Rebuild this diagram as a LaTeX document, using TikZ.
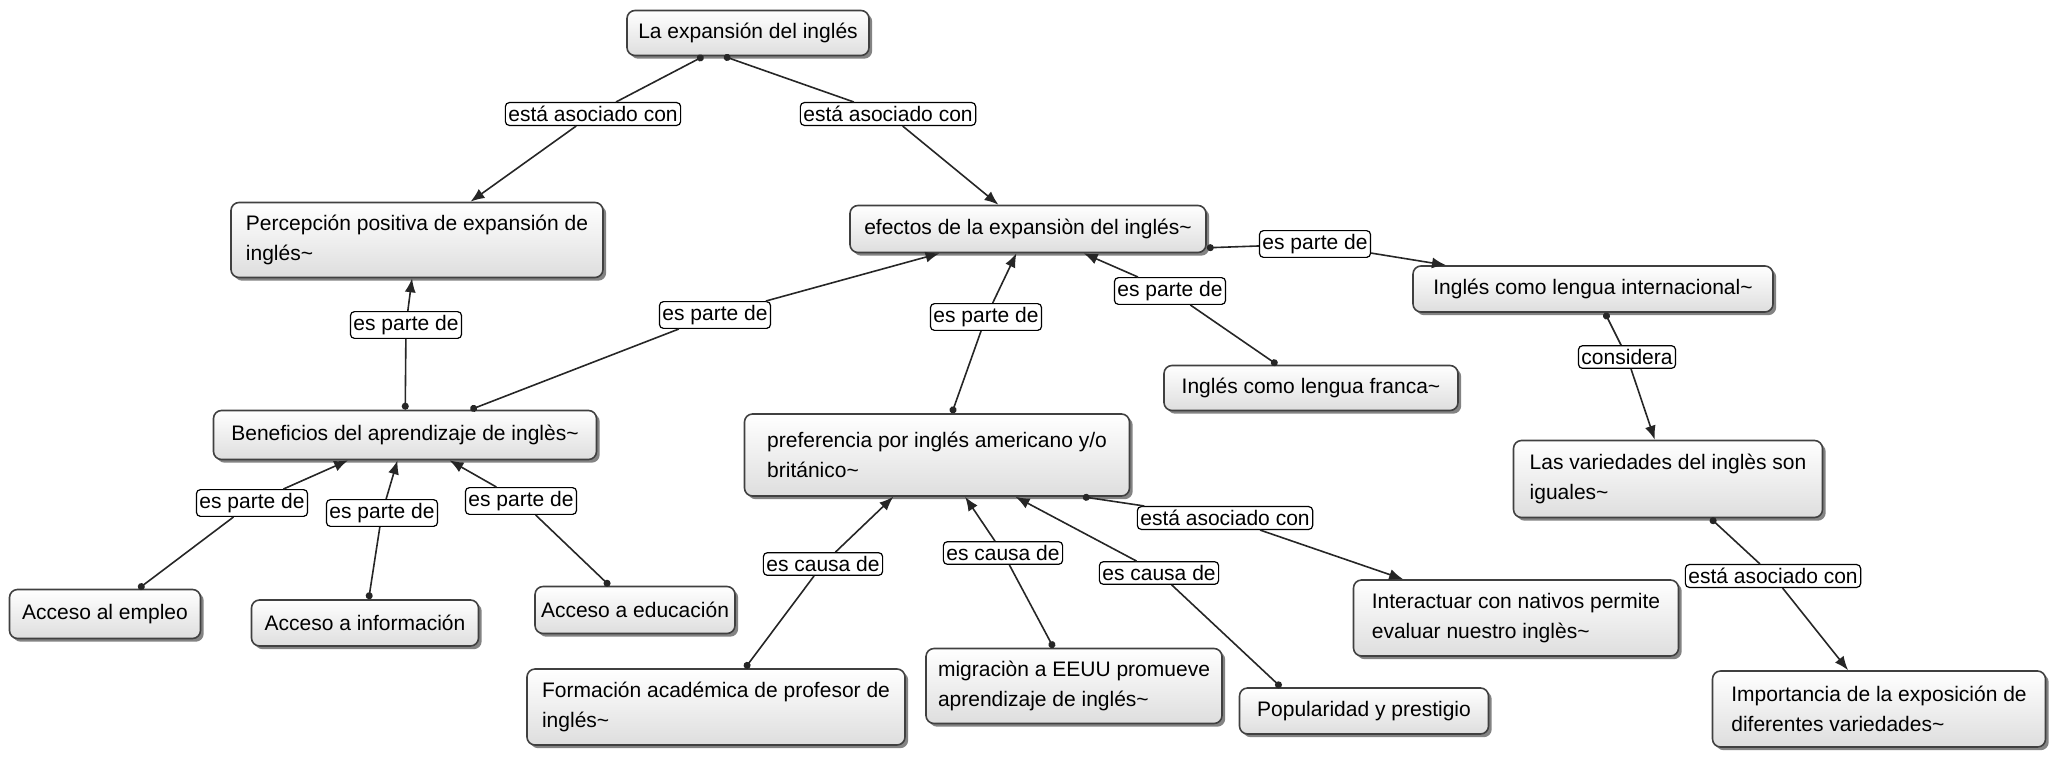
\documentclass[tikz,border=0pt]{standalone}
\usepackage{fontspec}
\setmainfont{Liberation Sans}
\usetikzlibrary{arrows.meta, shadows}

\begin{document}
\begin{tikzpicture}[x=0.5pt, y=-0.5pt,
    every node/.style={font=\fontsize{10.5}{15}\selectfont},
    concepto/.style={rectangle, rounded corners=4pt, draw=black!75, line width=0.8pt,
      top color=white, bottom color=black!13, align=left, inner xsep=3pt, inner ysep=3pt,
      drop shadow={shadow xshift=1.6pt, shadow yshift=-1.6pt, opacity=0.65, fill=black!75}},
    frase/.style={rectangle, rounded corners=2pt, draw=black, line width=0.6pt, fill=white,
      inner xsep=1.5pt, inner ysep=1.8pt},
    desde/.style={draw=black!85, line width=0.8pt, {Circle[length=3.5pt]}-},
    hacia/.style={draw=black!85, line width=0.8pt, -{Latex[length=7pt, width=5.5pt]}}]
  \useasboundingbox (0,0) rectangle (2056,756);

  % conceptos
  \node[concepto, minimum width=121pt, minimum height=22.5pt] (expansion) at (748,33) {La expansión del inglés};
  \node[concepto, minimum width=186pt, minimum height=37.5pt] (percepcion) at (417,240) {Percepción positiva de expansión de\\inglés\textasciitilde};
  \node[concepto, minimum width=178pt, minimum height=23.5pt] (efectos) at (1028,229) {efectos de la expansiòn del inglés\textasciitilde};
  \node[concepto, minimum width=180pt, minimum height=23pt] (internacional) at (1593,289) {Inglés como lengua internacional\textasciitilde};
  \node[concepto, minimum width=147pt, minimum height=22.5pt] (franca) at (1311,388) {Inglés como lengua franca\textasciitilde};
  \node[concepto, minimum width=191.5pt, minimum height=24.5pt] (beneficios) at (405,435) {Beneficios del aprendizaje de inglès\textasciitilde};
  \node[concepto, minimum width=192.5pt, minimum height=41pt] (preferencia) at (937,455) {preferencia por inglés americano y/o\\británico\textasciitilde};
  \node[concepto, minimum width=154.5pt, minimum height=38.5pt] (variedades) at (1668,479) {Las variedades del inglès son\\iguales\textasciitilde};
  \node[concepto, minimum width=95.5pt, minimum height=24.5pt] (empleo) at (105,614) {Acceso al empleo};
  \node[concepto, minimum width=113.5pt, minimum height=23pt] (informacion) at (365,623) {Acceso a información};
  \node[concepto, minimum width=99.5pt, minimum height=23.5pt] (educacion) at (635,610) {Acceso a educación};
  \node[concepto, minimum width=162.5pt, minimum height=38pt] (nativos) at (1516,618) {Interactuar con nativos permite\\evaluar nuestro inglès\textasciitilde};
  \node[concepto, minimum width=189pt, minimum height=38pt] (formacion) at (716,707) {Formación académica de profesor de\\inglés\textasciitilde};
  \node[concepto, minimum width=148pt, minimum height=37.5pt] (migracion) at (1074,686) {migraciòn a EEUU promueve\\aprendizaje de inglés\textasciitilde};
  \node[concepto, minimum width=124.5pt, minimum height=23pt] (popularidad) at (1364,711) {Popularidad y prestigio};
  \node[concepto, minimum width=166.5pt, minimum height=38pt] (importancia) at (1879,709) {Importancia de la exposición de\\diferentes variedades\textasciitilde};

  % frases de enlace
  \node[frase] (f1) at (593,114) {está asociado con};
  \node[frase] (f2) at (888,114) {está asociado con};
  \node[frase] (f3) at (406,325) {es parte de};
  \node[frase] (f4) at (715,315) {es parte de};
  \node[frase] (f5) at (986,317) {es parte de};
  \node[frase] (f6) at (1170,291) {es parte de};
  \node[frase] (f7) at (1315,244) {es parte de};
  \node[frase] (f8) at (1627,357) {considera};
  \node[frase] (f9) at (252,503) {es parte de};
  \node[frase] (f10) at (382,513) {es parte de};
  \node[frase] (f11) at (521,501) {es parte de};
  \node[frase] (f12) at (823,564) {es causa de};
  \node[frase] (f13) at (1003,553) {es causa de};
  \node[frase] (f14) at (1159,573) {es causa de};
  \node[frase] (f15) at (1225,518) {está asociado con};
  \node[frase] (f16) at (1773,576) {está asociado con};

  % enlaces
  \draw[desde] (expansion) -- (f1);
  \draw[hacia] (f1) -- (percepcion);
  \draw[desde] (expansion.224) -- (f2);
  \draw[hacia] (f2) -- (efectos);
  \draw[desde] (beneficios) -- (f3);
  \draw[hacia] (f3) -- (percepcion);
  \draw[desde] (beneficios) -- (f4);
  \draw[hacia] (f4) -- (efectos);
  \draw[desde] (preferencia) -- (f5);
  \draw[hacia] (f5) -- (efectos);
  \draw[desde] (franca) -- (f6);
  \draw[hacia] (f6) -- (efectos);
  \draw[desde] (efectos.-6) -- (f7);
  \draw[hacia] (f7) -- (internacional);
  \draw[desde] (internacional) -- (f8);
  \draw[hacia] (f8) -- (variedades);
  \draw[desde] (empleo) -- (f9);
  \draw[hacia] (f9) -- (beneficios);
  \draw[desde] (informacion) -- (f10);
  \draw[hacia] (f10) -- (beneficios);
  \draw[desde] (educacion) -- (f11);
  \draw[hacia] (f11) -- (beneficios);
  \draw[desde] (formacion) -- (f12);
  \draw[hacia] (f12) -- (preferencia);
  \draw[desde] (migracion) -- (f13);
  \draw[hacia] (f13) -- (preferencia);
  \draw[desde] (popularidad.164) -- (f14);
  \draw[hacia] (f14) -- (preferencia);
  \draw[desde] (preferencia.-16) -- (f15);
  \draw[hacia] (f15) -- (nativos);
  \draw[desde] (variedades) -- (f16);
  \draw[hacia] (f16) -- (importancia);
\end{tikzpicture}
\end{document}
